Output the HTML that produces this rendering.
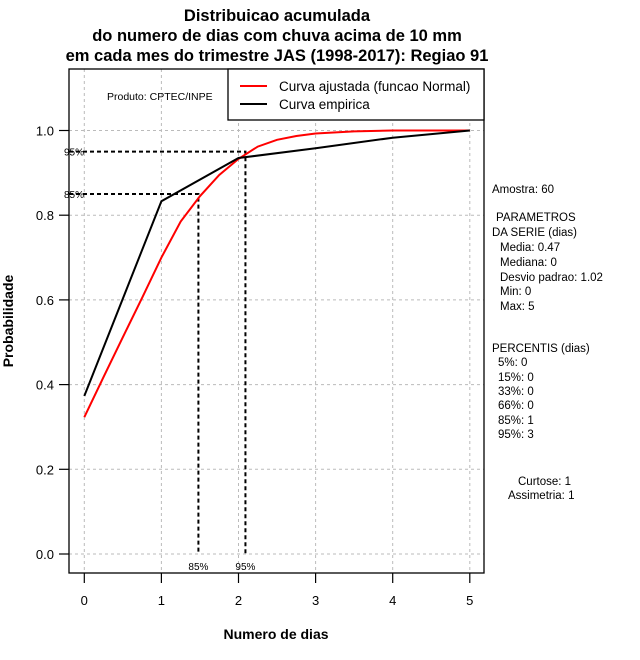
<!DOCTYPE html>
<html><head><meta charset="utf-8"><style>
body{margin:0;background:#fff;}
svg{display:block;font-family:"Liberation Sans",sans-serif;}
</style></head><body>
<svg id="chart" width="640" height="660" xmlns="http://www.w3.org/2000/svg">
<g id="title" font-weight="bold" font-size="16.5" text-anchor="middle">
<text x="277" y="21">Distribuicao acumulada</text>
<text x="277" y="41">do numero de dias com chuva acima de 10 mm</text>
<text x="277" y="61">em cada mes do trimestre JAS (1998-2017): Regiao 91</text>
</g>
<g id="grid"></g>
<g id="marks"></g>
<rect x="69" y="69" width="415" height="504" fill="none" stroke="#000" stroke-width="1.3"/>
<g id="axes" font-size="13"></g>
<text x="276" y="639" font-size="14" font-weight="bold" text-anchor="middle">Numero de dias</text>
<text transform="translate(13,321) rotate(-90)" font-size="14" font-weight="bold" text-anchor="middle">Probabilidade</text>
<text x="107" y="100" font-size="10.5">Produto: CPTEC/INPE</text>
<g>
<rect x="228" y="69" width="256" height="51" fill="#fff" stroke="#000" stroke-width="1.3"/>
<line x1="240" y1="86" x2="267" y2="86" stroke="#f00" stroke-width="2"/>
<text x="279" y="91" font-size="13.5">Curva ajustada (funcao Normal)</text>
<line x1="240" y1="104" x2="267" y2="104" stroke="#000" stroke-width="2"/>
<text x="279" y="109" font-size="13.5">Curva empirica</text>
</g>
<g font-size="11.5">
<text x="492" y="193">Amostra: 60</text>
<text x="496" y="221">PARAMETROS</text>
<text x="492" y="236">DA SERIE (dias)</text>
<text x="500" y="251">Media: 0.47</text>
<text x="500" y="266">Mediana: 0</text>
<text x="500" y="281">Desvio padrao: 1.02</text>
<text x="500" y="295">Min: 0</text>
<text x="500" y="310">Max: 5</text>
<text x="492" y="352">PERCENTIS (dias)</text>
<text x="498" y="366">5%: 0</text>
<text x="498" y="381">15%: 0</text>
<text x="498" y="395">33%: 0</text>
<text x="498" y="409">66%: 0</text>
<text x="498" y="424">85%: 1</text>
<text x="498" y="438">95%: 3</text>
<text x="518" y="485">Curtose: 1</text>
<text x="508" y="499">Assimetria: 1</text>
</g>
</svg>
<script>
const xTicks=[0,1,2,3,4,5];
const yTicks=[0,0.2,0.4,0.6,0.8,1.0];
const empX=[0,1,2,3,4,5];
const empY=[0.373,0.833,0.935,0.958,0.983,1.0];
const normX=[0,0.25,0.5,0.75,1,1.25,1.5,1.75,2,2.25,2.5,2.75,3,3.5,4,4.5,5];
const normY=[0.323,0.418,0.512,0.605,0.70,0.785,0.845,0.895,0.933,0.962,0.978,0.987,0.993,0.998,1.0,1.0,1.0];
const pctLevels=[0.85,0.95];
const pctValues=[1.48,2.09];
const pctLabels=["85%","95%"];
const X=v=>84.3+v*77.1;
const Y=v=>554-v*423.5;
const NS="http://www.w3.org/2000/svg";
function mk(tag,attrs,parent,text){const e=document.createElementNS(NS,tag);for(const k in attrs)e.setAttribute(k,attrs[k]);if(text!==undefined)e.textContent=text;parent.appendChild(e);return e;}
const grid=document.getElementById('grid'),marks=document.getElementById('marks'),axes=document.getElementById('axes');
xTicks.forEach(t=>{
 const g=mk('line',{x1:X(t),x2:X(t),y1:69,y2:573,stroke:'#bbb','stroke-dasharray':'3,3'},grid);
 
 
 const tk=mk('line',{x1:X(t),x2:X(t),y1:573,y2:583,stroke:'#000','stroke-width':1.2},axes);
 
 
 const l=mk('text',{x:X(t),y:605,'text-anchor':'middle'},axes,String(t));
 
 
});
yTicks.forEach(t=>{
 const g=mk('line',{x1:69,x2:484,y1:Y(t),y2:Y(t),stroke:'#bbb','stroke-dasharray':'3,3'},grid);
 
 
 const tk=mk('line',{x1:59,x2:69,y1:Y(t),y2:Y(t),stroke:'#000','stroke-width':1.2},axes);
 
 
 const l=mk('text',{x:54,y:Y(t)+5,'text-anchor':'end'},axes,t.toFixed(1));
 
 
});
pctLevels.forEach((p,i)=>{
 const d=`M69,${Y(p)} H${X(pctValues[i])} V${Y(0)}`;
 const ln=mk('path',{d:d,fill:'none',stroke:'#000','stroke-width':2,'stroke-dasharray':'4,3'},marks);
 
 
 const a=mk('text',{x:64,y:Y(p)+4,'font-size':10},marks,pctLabels[i]);
 
 
 const b=mk('text',{x:X(pctValues[i]),y:570,'font-size':10,'text-anchor':'middle'},marks,pctLabels[i]);
 
 
});
const rp=mk('polyline',{points:normX.map((v,i)=>X(v)+','+Y(normY[i])).join(' '),fill:'none',stroke:'#f00','stroke-width':2},marks);


const ep=mk('polyline',{points:empX.map((v,i)=>X(v)+','+Y(empY[i])).join(' '),fill:'none',stroke:'#000','stroke-width':2},marks);


</script>
</body></html>
